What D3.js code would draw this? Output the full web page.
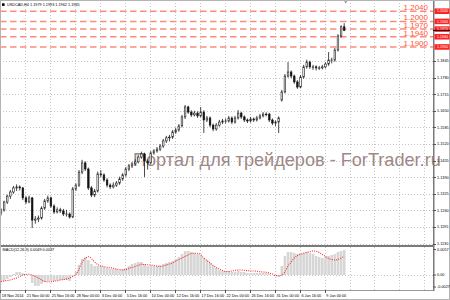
<!DOCTYPE html>
<html>
<head>
<meta charset="utf-8">
<script src="https://cdn.jsdelivr.net/npm/d3@7"></script>
<style>
html, body { margin: 0; padding: 0; background: #fff; }
svg { display: block; font-family: "Liberation Sans", Arial, sans-serif; }
</style>
</head>
<body>
<script>
var width = 450, height = 300;

// ---- data (USDCAD H4, one candle here = 2 H4 bars) ----
var title = "USDCAD,H4  1.1979 1.1993 1.1962 1.1965";
var macdTitle = "MACD(12,26,9) 0.0049 0.0037";
var watermark = "Портал для трейдеров - ForTrader.ru";

// [open, high, low, close]
var ohlc = [
  [1.1250,1.1268,1.1240,1.1262],[1.1262,1.1298,1.1255,1.1293],[1.1293,1.1322,1.1285,1.1316],
  [1.1316,1.1340,1.1305,1.1332],[1.1332,1.1356,1.1325,1.1348],[1.1348,1.1362,1.1336,1.1352],
  [1.1352,1.1358,1.1338,1.1348],[1.1348,1.1352,1.1300,1.1309],[1.1309,1.1316,1.1285,1.1293],
  [1.1293,1.1318,1.1288,1.1309],[1.1309,1.1312,1.1191,1.1222],[1.1222,1.1238,1.1208,1.1226],
  [1.1226,1.1240,1.1214,1.1230],[1.1230,1.1276,1.1224,1.1269],[1.1269,1.1305,1.1262,1.1297],
  [1.1297,1.1318,1.1290,1.1309],[1.1309,1.1314,1.1270,1.1277],[1.1277,1.1284,1.1246,1.1254],
  [1.1254,1.1272,1.1248,1.1262],[1.1262,1.1270,1.1250,1.1258],[1.1258,1.1266,1.1238,1.1246],
  [1.1246,1.1262,1.1236,1.1246],[1.1246,1.1252,1.1228,1.1234],[1.1234,1.1352,1.1230,1.1344],
  [1.1344,1.1366,1.1336,1.1359],[1.1359,1.1418,1.1352,1.1410],[1.1410,1.1458,1.1402,1.1446],
  [1.1446,1.1452,1.1414,1.1422],[1.1422,1.1428,1.1340,1.1348],[1.1348,1.1355,1.1312,1.1320],
  [1.1320,1.1344,1.1312,1.1336],[1.1336,1.1412,1.1330,1.1403],[1.1403,1.1418,1.1390,1.1399],
  [1.1399,1.1405,1.1372,1.1379],[1.1379,1.1386,1.1350,1.1359],[1.1359,1.1366,1.1344,1.1352],
  [1.1352,1.1370,1.1346,1.1359],[1.1359,1.1375,1.1352,1.1367],[1.1367,1.1392,1.1360,1.1383],
  [1.1383,1.1406,1.1376,1.1399],[1.1399,1.1430,1.1392,1.1422],[1.1422,1.1442,1.1414,1.1434],
  [1.1434,1.1450,1.1426,1.1442],[1.1442,1.1460,1.1436,1.1450],[1.1450,1.1478,1.1444,1.1469],
  [1.1469,1.1490,1.1462,1.1481],[1.1481,1.1486,1.1391,1.1453],[1.1453,1.1460,1.1420,1.1446],
  [1.1446,1.1492,1.1440,1.1485],[1.1485,1.1500,1.1478,1.1493],[1.1493,1.1508,1.1486,1.1500],
  [1.1500,1.1520,1.1492,1.1512],[1.1512,1.1540,1.1505,1.1532],[1.1532,1.1552,1.1524,1.1544],
  [1.1544,1.1556,1.1530,1.1547],[1.1547,1.1575,1.1540,1.1567],[1.1567,1.1584,1.1560,1.1575],
  [1.1575,1.1598,1.1568,1.1591],[1.1591,1.1634,1.1585,1.1626],[1.1626,1.1673,1.1618,1.1665],
  [1.1665,1.1670,1.1638,1.1645],[1.1645,1.1652,1.1626,1.1634],[1.1634,1.1650,1.1628,1.1641],
  [1.1641,1.1648,1.1622,1.1630],[1.1630,1.1665,1.1624,1.1645],[1.1645,1.1652,1.1563,1.1614],
  [1.1614,1.1630,1.1606,1.1622],[1.1622,1.1628,1.1586,1.1594],[1.1594,1.1600,1.1570,1.1579],
  [1.1579,1.1602,1.1572,1.1594],[1.1594,1.1614,1.1588,1.1606],[1.1606,1.1618,1.1598,1.1610],
  [1.1610,1.1620,1.1600,1.1610],[1.1610,1.1630,1.1604,1.1622],[1.1622,1.1628,1.1598,1.1606],
  [1.1606,1.1630,1.1600,1.1622],[1.1622,1.1653,1.1616,1.1641],[1.1641,1.1646,1.1618,1.1626],
  [1.1626,1.1632,1.1606,1.1614],[1.1614,1.1620,1.1602,1.1610],[1.1610,1.1626,1.1604,1.1618],
  [1.1618,1.1624,1.1606,1.1614],[1.1614,1.1630,1.1608,1.1622],[1.1622,1.1638,1.1616,1.1630],
  [1.1630,1.1645,1.1624,1.1637],[1.1637,1.1644,1.1628,1.1637],[1.1637,1.1642,1.1606,1.1614],
  [1.1614,1.1620,1.1594,1.1602],[1.1602,1.1612,1.1590,1.1606],[1.1606,1.1628,1.1563,1.1622],
  [1.1692,1.1732,1.1686,1.1724],[1.1724,1.1794,1.1718,1.1786],[1.1786,1.1841,1.1780,1.1802],
  [1.1802,1.1808,1.1778,1.1786],[1.1786,1.1792,1.1756,1.1763],[1.1763,1.1770,1.1736,1.1743],
  [1.1743,1.1790,1.1738,1.1782],[1.1782,1.1830,1.1776,1.1822],[1.1822,1.1850,1.1815,1.1841],
  [1.1841,1.1846,1.1814,1.1822],[1.1822,1.1830,1.1810,1.1822],[1.1822,1.1828,1.1808,1.1818],
  [1.1818,1.1826,1.1810,1.1818],[1.1818,1.1830,1.1812,1.1822],[1.1822,1.1840,1.1816,1.1833],
  [1.1833,1.1880,1.1826,1.1849],[1.1849,1.1858,1.1836,1.1849],[1.1849,1.1896,1.1842,1.1888],
  [1.1888,1.1950,1.1882,1.1943],[1.1943,1.1985,1.1936,1.1979],[1.1979,1.1993,1.1962,1.1965]
];

var macdMain = [
  -0.00118,-0.00118,-0.00079,-0.00039,0.00020,0.00059,0.00059,0.00039,0.00020,0.00000,
  -0.00157,-0.00216,-0.00216,-0.00177,-0.00138,-0.00118,-0.00118,-0.00118,-0.00098,-0.00098,
  -0.00098,-0.00098,-0.00118,-0.00020,0.00059,0.00197,0.00315,0.00354,0.00295,0.00216,
  0.00177,0.00177,0.00177,0.00157,0.00138,0.00118,0.00118,0.00118,0.00098,0.00118,
  0.00138,0.00177,0.00216,0.00236,0.00256,0.00256,0.00216,0.00177,0.00177,0.00177,
  0.00177,0.00197,0.00216,0.00236,0.00256,0.00275,0.00315,0.00354,0.00413,0.00472,
  0.00472,0.00452,0.00433,0.00413,0.00393,0.00334,0.00295,0.00236,0.00177,0.00138,
  0.00098,0.00079,0.00079,0.00079,0.00059,0.00059,0.00079,0.00059,0.00059,0.00039,
  0.00039,0.00039,0.00039,0.00039,0.00039,0.00039,0.00020,0.00000,-0.00020,-0.00039,
  0.00177,0.00374,0.00452,0.00452,0.00433,0.00413,0.00433,0.00433,0.00452,0.00433,
  0.00413,0.00374,0.00354,0.00334,0.00354,0.00374,0.00393,0.00413,0.00452,0.00472,
  0.00492
];

var macdSignal = [
  -0.00132,-0.00118,-0.00108,-0.00098,-0.00079,-0.00059,-0.00029,0.00000,0.00010,0.00014,
  0.00000,-0.00029,-0.00059,-0.00098,-0.00128,-0.00132,-0.00132,-0.00122,-0.00112,-0.00098,
  -0.00088,-0.00079,-0.00059,-0.00029,0.00010,0.00118,0.00256,0.00324,0.00360,0.00324,
  0.00256,0.00206,0.00177,0.00163,0.00151,0.00142,0.00132,0.00118,0.00108,0.00098,
  0.00108,0.00128,0.00151,0.00167,0.00191,0.00210,0.00206,0.00201,0.00197,0.00187,
  0.00177,0.00163,0.00177,0.00197,0.00216,0.00236,0.00275,0.00305,0.00334,0.00364,
  0.00393,0.00423,0.00427,0.00427,0.00403,0.00334,0.00285,0.00236,0.00187,0.00147,
  0.00118,0.00088,0.00069,0.00069,0.00079,0.00088,0.00098,0.00098,0.00092,0.00085,
  0.00079,0.00079,0.00073,0.00065,0.00059,0.00053,0.00039,0.00020,-0.00010,-0.00014,
  0.00000,0.00059,0.00177,0.00256,0.00334,0.00383,0.00407,0.00427,0.00442,0.00458,
  0.00472,0.00466,0.00442,0.00403,0.00364,0.00324,0.00305,0.00295,0.00305,0.00334,
  0.00370
];

var priceTicks = [1.1845, 1.1780, 1.1715, 1.1650, 1.1585, 1.1520, 1.1455,
                  1.1390, 1.1325, 1.1260, 1.1195, 1.1130];
var levels = [1.2040, 1.2000, 1.1970, 1.1940, 1.1900];
var bid = 1.1965;
var macdTicks = [0.0057, 0, -0.0027];
var macdTickText = ["0.0057", "0.00", "-0.0027"];

var timeLabels = ["18 Nov 2014", "21 Nov 00:00", "25 Nov 16:00", "28 Nov 00:00", "3 Dec 00:00",
                  "5 Dec 16:00", "10 Dec 00:00", "12 Dec 16:00", "17 Dec 16:00", "22 Dec 00:00",
                  "26 Dec 16:00", "31 Dec 00:00", "6 Jan 16:00", "9 Jan 00:00"];
var timePos = [-0.3, 7.7, 15.7, 23.7, 31.7, 39.7, 47.7, 55.7, 63.7, 71.7, 79.7, 87.7, 95.7, 103.7];

// ---- layout ----
var plotR = 433, mainB = 245, macdT = 247, macdB = 290;

var svg = d3.select('body')
            .append('svg')
            .attr('width', width)
            .attr('height', height);

var x = d3.scaleLinear().domain([0, 110]).range([1, 344.2]);
var y = d3.scaleLinear().domain([1.1130, 1.1845]).range([243.6, 61]);
var ym = d3.scaleLinear().domain([0, 0.0057]).range([275, 246]);

svg.append('rect').attr('width', width).attr('height', height).attr('fill', '#fff');

var defs = svg.append('defs');
defs.append('clipPath').attr('id', 'clipMain')
  .append('rect').attr('x', 0).attr('y', 0).attr('width', plotR).attr('height', mainB);
defs.append('clipPath').attr('id', 'clipMacd')
  .append('rect').attr('x', 0).attr('y', macdT).attr('width', plotR).attr('height', macdB - macdT);

var gridColor = '#c4c4c4';

// vertical grid (every 16 H4 bars = 8 candles)
var gridIdx = d3.range(timePos[0], x.invert(plotR), 8);
var grid = svg.append('g')
  .attr('stroke', gridColor)
  .attr('stroke-dasharray', '1,2')
  .attr('shape-rendering', 'crispEdges');

grid.selectAll('.vg1').data(gridIdx).enter().append('line')
  .attr('x1', function(d) { return Math.round(x(d)) + 0.5; })
  .attr('x2', function(d) { return Math.round(x(d)) + 0.5; })
  .attr('y1', 0).attr('y2', mainB);
grid.selectAll('.vg2').data(gridIdx).enter().append('line')
  .attr('x1', function(d) { return Math.round(x(d)) + 0.5; })
  .attr('x2', function(d) { return Math.round(x(d)) + 0.5; })
  .attr('y1', macdT).attr('y2', macdB);

grid.selectAll('.hg').data(priceTicks).enter().append('line')
  .attr('x1', 0).attr('x2', plotR)
  .attr('y1', function(d) { return Math.round(y(d)) + 0.5; })
  .attr('y2', function(d) { return Math.round(y(d)) + 0.5; });

grid.append('line')
  .attr('x1', 0).attr('x2', plotR)
  .attr('y1', Math.round(ym(0)) + 0.5).attr('y2', Math.round(ym(0)) + 0.5);

// watermark (behind the bars)
var wm = svg.append('text')
  .attr('x', 133)
  .attr('y', 166)
  .attr('fill', '#9e8888')
  .style('font-size', '17.5px')
  .text(watermark);
var wmLen = wm.node().getComputedTextLength();
if (wmLen > 0) wm.style('font-size', (17.5 * 308 / wmLen) + 'px');

// horizontal level lines
var lv = svg.append('g').attr('clip-path', 'url(#clipMain)');
lv.selectAll('line').data(levels).enter().append('line')
  .attr('x1', 0).attr('x2', plotR)
  .attr('y1', function(d) { return y(d); })
  .attr('y2', function(d) { return y(d); })
  .attr('stroke', '#ff8a80')
  .attr('stroke-width', 1.5)
  .attr('stroke-dasharray', '6.5,3.5');

lv.selectAll('text').data(levels).enter().append('text')
  .attr('x', 428)
  .attr('y', function(d) { return y(d) - 1.2; })
  .attr('text-anchor', 'end')
  .attr('fill', '#ff5533')
  .style('font-size', '8px')
  .text(function(d) { return d.toFixed(4); });

// candles
var cw = 1.6;
var candles = svg.append('g').attr('clip-path', 'url(#clipMain)')
  .selectAll('g').data(ohlc).enter().append('g');

candles.append('line')
  .attr('x1', function(d, i) { return x(i); })
  .attr('x2', function(d, i) { return x(i); })
  .attr('y1', function(d) { return y(d[1]); })
  .attr('y2', function(d) { return y(d[2]); })
  .attr('stroke', '#1a1a1a')
  .attr('stroke-width', 0.8);

candles.append('rect')
  .attr('x', function(d, i) { return x(i) - cw / 2; })
  .attr('y', function(d) { return y(Math.max(d[0], d[3])); })
  .attr('width', cw)
  .attr('height', function(d) { return Math.max(0.6, Math.abs(y(d[0]) - y(d[3]))); })
  .attr('fill', function(d) { return d[3] >= d[0] ? '#ffffff' : '#111111'; })
  .attr('stroke', '#1a1a1a')
  .attr('stroke-width', 0.6);

// MACD histogram + signal
var bw = 2.6;
var macd = svg.append('g').attr('clip-path', 'url(#clipMacd)');
macd.selectAll('rect').data(macdMain).enter().append('rect')
  .attr('x', function(d, i) { return x(i) - bw / 2; })
  .attr('y', function(d) { return Math.min(ym(d), ym(0)); })
  .attr('width', bw)
  .attr('height', function(d) { return Math.abs(ym(d) - ym(0)); })
  .attr('fill', '#d6d6d6');

var sigLine = d3.line()
  .x(function(d, i) { return x(i); })
  .y(function(d) { return ym(d); })
  .curve(d3.curveMonotoneX);

macd.append('path')
  .datum(macdSignal)
  .attr('d', sigLine)
  .attr('fill', 'none')
  .attr('stroke', '#ff2a2a')
  .attr('stroke-width', 1.1)
  .attr('stroke-dasharray', '1,1.2');

// panel frames
svg.append('rect').attr('x', 0).attr('y', mainB).attr('width', plotR + 1).attr('height', 2).attr('fill', '#7a7a7a');
svg.append('line').attr('x1', 0).attr('x2', plotR).attr('y1', macdB + 0.5).attr('y2', macdB + 0.5)
  .attr('stroke', '#9a9a9a');
svg.append('rect').attr('x', plotR).attr('y', 0).attr('width', 1.5).attr('height', macdB + 1).attr('fill', '#7a7a7a');
svg.append('rect').attr('x', 0.5).attr('y', 0.5).attr('width', width - 1).attr('height', height - 1)
  .attr('fill', 'none').attr('stroke', '#b4b4b4');

// price axis
var fs = '3.8px';
var pa = svg.append('g');
pa.selectAll('line').data(priceTicks).enter().append('line')
  .attr('x1', plotR).attr('x2', plotR + 3)
  .attr('y1', function(d) { return Math.round(y(d)) + 0.5; })
  .attr('y2', function(d) { return Math.round(y(d)) + 0.5; })
  .attr('stroke', '#555');
pa.selectAll('text').data(priceTicks).enter().append('text')
  .attr('x', 437)
  .attr('y', function(d) { return y(d); })
  .attr('dy', '0.35em')
  .style('font-size', fs)
  .attr('fill', '#000')
  .text(function(d) { return d.toFixed(4); });

// red level tags on the axis
var tags = svg.append('g').selectAll('g').data(levels).enter().append('g');
tags.append('rect')
  .attr('x', plotR + 1.5)
  .attr('y', function(d) { return y(d) - 2.8; })
  .attr('width', width - plotR - 2)
  .attr('height', 5.6)
  .attr('fill', '#ff2323');
tags.append('text')
  .attr('x', 437)
  .attr('y', function(d) { return y(d); })
  .attr('dy', '0.35em')
  .style('font-size', '3.6px')
  .attr('fill', '#fff')
  .text(function(d) { return d.toFixed(4); });

svg.append('line')
  .attr('x1', plotR).attr('x2', width)
  .attr('y1', y(bid)).attr('y2', y(bid))
  .attr('stroke', '#000').attr('stroke-width', 1);

// MACD axis
var ma = svg.append('g');
ma.selectAll('text').data(macdTicks).enter().append('text')
  .attr('x', 437)
  .attr('y', function(d) { return Math.min(Math.max(ym(d), 249.5), 287); })
  .attr('dy', '0.35em')
  .style('font-size', fs)
  .attr('fill', '#000')
  .text(function(d, i) { return macdTickText[i]; });
ma.selectAll('line').data(macdTicks).enter().append('line')
  .attr('x1', plotR).attr('x2', plotR + 3)
  .attr('y1', function(d) { return Math.min(Math.max(ym(d), 249.5), 287); })
  .attr('y2', function(d) { return Math.min(Math.max(ym(d), 249.5), 287); })
  .attr('stroke', '#555');

// time axis
var ta = svg.append('g');
ta.selectAll('line').data(timePos).enter().append('line')
  .attr('x1', function(d) { return Math.round(x(d)) + 0.5; })
  .attr('x2', function(d) { return Math.round(x(d)) + 0.5; })
  .attr('y1', macdB).attr('y2', macdB + 3)
  .attr('stroke', '#555');
ta.selectAll('text').data(timeLabels).enter().append('text')
  .attr('x', function(d, i) { return x(timePos[i]) + 1.8; })
  .attr('y', 296)
  .attr('dy', '0.35em')
  .style('font-size', fs)
  .attr('fill', '#000')
  .text(function(d) { return d; });

// window captions
svg.append('rect').attr('x', 2).attr('y', 3.3).attr('width', 2.6).attr('height', 2.6).attr('fill', '#000');
svg.append('text')
  .attr('x', 7).attr('y', 4.8).attr('dy', '0.35em')
  .style('font-size', fs).attr('fill', '#000')
  .text(title);
svg.append('text')
  .attr('x', 2.5).attr('y', 249.5).attr('dy', '0.35em')
  .style('font-size', fs).attr('fill', '#000')
  .text(macdTitle);

// chart shift marker
var sx = x(ohlc.length - 1) + 1.5;
svg.append('path')
  .attr('d', 'M' + (sx - 1.6) + ',1.2L' + (sx + 1.6) + ',1.2L' + sx + ',3.6Z')
  .attr('fill', '#909090');
</script>
</body>
</html>
